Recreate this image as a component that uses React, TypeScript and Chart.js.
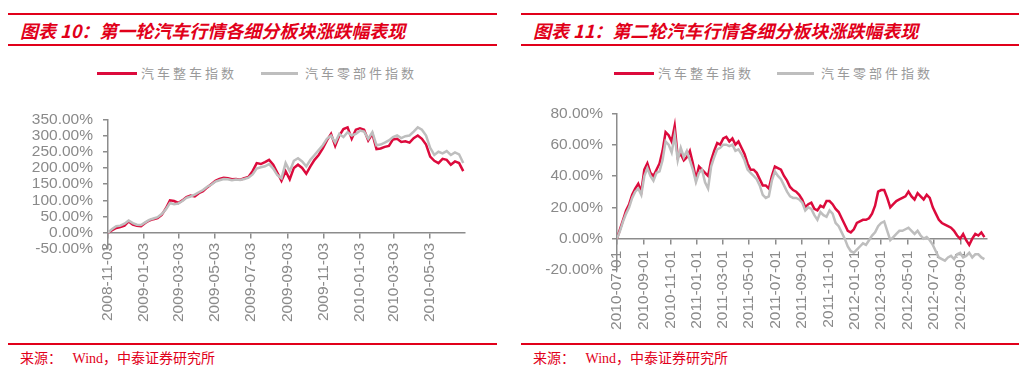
import React, { useEffect, useRef } from "react";
import { Chart, registerables } from "chart.js";

Chart.register(...registerables);

// ---------- data ----------
const seriesNames = ["汽车整车指数", "汽车零部件指数"];

// Panel 1 (first rally): weekly samples starting 2008-11-03
const leftStartDate = "2008-11-03";
const leftEndDate = "2010-07-01";
const leftTickLabels = [
  "2008-11-03", "2009-01-03", "2009-03-03", "2009-05-03", "2009-07-03",
  "2009-09-03", "2009-11-03", "2010-01-03", "2010-03-03", "2010-05-03",
];
const leftVehicle = [
  0, 8, 15, 18, 22, 35, 25, 22, 20, 30, 38, 42, 45, 55, 75, 100, 98, 92, 100, 110,
  115, 112, 122, 128, 140, 150, 160, 166, 170, 168, 165, 166, 164, 168, 172, 190, 215, 212, 218, 225,
  210, 185, 160, 190, 165, 200, 210, 200, 182, 205, 225, 240, 260, 285, 305, 268, 300, 320, 325, 290,
  318, 322, 318, 285, 305, 258, 260, 265, 268, 288, 290, 280, 282, 278, 292, 300, 290, 272, 235, 222,
  215, 228, 225, 210, 220, 215, 190,
];
const leftParts = [
  0, 12, 20, 22, 28, 38, 30, 25, 24, 32, 40, 44, 48, 58, 72, 92, 88, 90, 98, 108,
  112, 118, 125, 132, 142, 148, 158, 162, 166, 165, 162, 164, 163, 166, 170, 180, 198, 202, 205, 212,
  198, 178, 168, 215, 190, 222, 230, 220, 205, 225, 240, 255, 270, 290, 300, 278, 305, 295, 310, 300,
  305, 315, 312, 290, 310, 270, 272, 278, 285, 295, 300, 292, 298, 300, 312, 325, 318, 300, 262, 240,
  250, 245, 252, 240, 248, 242, 215,
];
const leftYMin = -50;
const leftYMax = 350;
const leftYStep = 50;

// Panel 2 (second rally): weekly samples starting 2010-07-01
const rightStartDate = "2010-07-01";
const rightEndDate = "2012-10-31";
const rightTickLabels = [
  "2010-07-01", "2010-09-01", "2010-11-01", "2011-01-01", "2011-03-01",
  "2011-05-01", "2011-07-01", "2011-09-01", "2011-11-01", "2012-01-01",
  "2012-03-01", "2012-05-01", "2012-07-01", "2012-09-01",
];
const rightVehicle = [
  0, 6, 12, 18, 22, 28, 32, 35, 30, 44, 48, 42, 40, 44, 48, 56, 68, 66, 62, 72,
  52, 54, 50, 52, 56, 48, 38, 46, 44, 42, 40, 50, 56, 61, 60, 64, 65, 62, 64, 60,
  62, 58, 54, 48, 44, 44, 42, 38, 34, 34, 32, 40, 46, 45, 44, 40, 37, 33, 31, 30,
  28, 25, 20, 22, 23, 19, 18, 21, 20, 24, 24, 22, 19, 17, 13, 9, 5, 4, 6, 10,
  11, 12, 12, 13, 16, 21, 30, 31, 31, 26, 20, 22, 24, 25, 26, 27, 30, 27, 25, 29,
  27, 25, 28, 26, 20, 16, 12, 10, 9, 8, 7, 5, 2, 0, 3, -1, -4, 0, 3, 2,
  4, 1,
];
const rightParts = [
  0, 5, 11, 16, 20, 26, 30, 32, 28, 40, 45, 40, 37, 42, 43, 50, 62, 60, 55, 66,
  50, 58, 52, 56, 50, 44, 36, 42, 44, 36, 32, 46, 52, 57, 58, 60, 60, 59, 60, 56,
  57, 54, 50, 44, 42, 40, 38, 34, 28, 26, 27, 37, 43, 40, 38, 34, 30, 27, 26, 26,
  25, 23, 18, 20, 19, 15, 12, 17, 15, 14, 18, 16, 10, 8, 4, 0, -5, -8, -9, -7,
  -5, -3, -4, -1, 2, 4, 8, 10, 11, 5, -1, 1, 3, 5, 5, 6, 7, 5, 3, 5,
  2, 0, 1, -1, -4, -8, -12, -13, -14, -12, -11, -13, -10, -9, -12, -11, -9, -12, -10, -10,
  -12, -13,
];
const rightYMin = -20;
const rightYMax = 80;
const rightYStep = 20;

const sampleDays = 7;

// ---------- styles ----------
const RED_TEXT = "#E1001A";
const RED_LINE = "#DC0A3C";
const GRAY_LINE = "#BEBEBE";
const AXIS = "#8C8C8C";
const TICK_TEXT = "#8A8A8A";
const TICK_FONT = "Liberation Sans, Arial, sans-serif";

function dayOffset(start: string, d: string) {
  return Math.round((Date.parse(d) - Date.parse(start)) / 86400000);
}

type PanelProps = {
  vehicle: number[];
  parts: number[];
  startDate: string;
  endDate: string;
  tickLabels: string[];
  yMin: number;
  yMax: number;
  yStep: number;
  left: number;
  top: number;
  width: number;
  height: number;
  yAxisWidth: number;
  yLabelPad: number;
  xLabelPad: number;
  padding: { top: number; right: number; bottom: number; left: number };
};

function LinePanel(p: PanelProps) {
  const ref = useRef<HTMLCanvasElement>(null);
  useEffect(() => {
    if (!ref.current) return;
    const tickDays = p.tickLabels.map((l) => dayOffset(p.startDate, l));
    const xMax = dayOffset(p.startDate, p.endDate);
    const toPoints = (arr: number[]) => arr.map((v, i) => ({ x: i * sampleDays, y: v }));
    const chart = new Chart(ref.current, {
      type: "line",
      data: {
        datasets: [
          {
            label: seriesNames[1],
            data: toPoints(p.parts),
            borderColor: GRAY_LINE,
            backgroundColor: GRAY_LINE,
            borderWidth: 2.5,
            pointRadius: 0,
            tension: 0,
          },
          {
            label: seriesNames[0],
            data: toPoints(p.vehicle),
            borderColor: RED_LINE,
            backgroundColor: RED_LINE,
            borderWidth: 2.5,
            pointRadius: 0,
            tension: 0,
          },
        ],
      },
      options: {
        responsive: false,
        maintainAspectRatio: false,
        animation: false,
        layout: { padding: p.padding },
        plugins: { legend: { display: false }, tooltip: { enabled: false } },
        scales: {
          x: {
            type: "linear",
            min: 0,
            max: xMax,
            position: { y: 0 } as any,
            afterBuildTicks: (s: any) => {
              s.ticks = tickDays.map((v) => ({ value: v }));
            },
            ticks: {
              autoSkip: false,
              maxRotation: 90,
              minRotation: 90,
              padding: p.xLabelPad,
              color: TICK_TEXT,
              font: { family: TICK_FONT, size: 15.5 },
              callback: (v: any) => {
                const i = tickDays.indexOf(Number(v));
                return i >= 0 ? p.tickLabels[i] : "";
              },
            },
            grid: {
              display: true,
              drawOnChartArea: false,
              drawTicks: true,
              tickLength: 5,
              color: AXIS,
              lineWidth: 1.5,
            },
            border: { display: true, color: AXIS, width: 1.5 },
          },
          y: {
            type: "linear",
            min: p.yMin,
            max: p.yMax,
            afterFit: (s: any) => {
              s.width = p.yAxisWidth;
            },
            ticks: {
              stepSize: p.yStep,
              autoSkip: false,
              padding: p.yLabelPad,
              color: TICK_TEXT,
              font: { family: TICK_FONT, size: 15.5 },
              callback: (v: any) => Number(v).toFixed(2) + "%",
            },
            grid: {
              display: true,
              drawOnChartArea: false,
              drawTicks: true,
              tickLength: 5,
              color: AXIS,
              lineWidth: 1.5,
            },
            border: { display: true, color: AXIS, width: 1.5 },
          },
        },
      },
    });
    return () => chart.destroy();
  }, []);
  return (
    <canvas
      ref={ref}
      width={p.width}
      height={p.height}
      style={{ position: "absolute", left: p.left, top: p.top, width: p.width, height: p.height }}
    />
  );
}

function Rule({ left, top, width }: { left: number; top: number; width: number }) {
  return <div style={{ position: "absolute", left, top, width, height: 2, background: RED_TEXT }} />;
}

function Legend({ x, gap }: { x: number; gap: number[] }) {
  const textStyle: React.CSSProperties = {
    position: "absolute",
    top: 66,
    fontFamily: "'Noto Sans CJK SC', sans-serif",
    fontSize: 13,
    lineHeight: "13px",
    letterSpacing: 3,
    color: "#9A9A9A",
    whiteSpace: "nowrap",
  };
  return (
    <>
      <div style={{ position: "absolute", left: x, top: 71.5, width: 40, height: 3, background: RED_LINE }} />
      <div style={{ ...textStyle, left: x + 44 }}>{seriesNames[0]}</div>
      <div style={{ position: "absolute", left: x + gap[0], top: 71.5, width: 37, height: 3, background: GRAY_LINE }} />
      <div style={{ ...textStyle, left: x + gap[0] + 44 }}>{seriesNames[1]}</div>
    </>
  );
}

function Title({ left, text }: { left: number; text: string }) {
  return (
    <div
      style={{
        position: "absolute",
        left,
        top: 21,
        fontFamily: "'Noto Sans CJK SC', sans-serif",
        fontWeight: 700,
        fontStyle: "italic",
        fontSize: 18,
        lineHeight: "18px",
        color: RED_TEXT,
        whiteSpace: "nowrap",
      }}
    >
      {text}
    </div>
  );
}

function Source({ left }: { left: number }) {
  return (
    <div
      style={{
        position: "absolute",
        left,
        top: 352,
        fontFamily: "'Liberation Serif', 'Noto Sans CJK SC', serif",
        fontSize: 14,
        lineHeight: "14px",
        color: RED_TEXT,
        whiteSpace: "pre",
      }}
    >
      {"来源：   Wind，中泰证券研究所"}
    </div>
  );
}

export default function App() {
  return (
    <div
      style={{
        position: "fixed",
        left: 0,
        top: 0,
        width: 1024,
        height: 375,
        background: "#ffffff",
        overflow: "hidden",
      }}
    >
      <Rule left={8} top={13} width={489} />
      <Rule left={8} top={43.5} width={489} />
      <Title left={20} text="图表 10：第一轮汽车行情各细分板块涨跌幅表现" />
      <Legend x={97} gap={[164]} />
      <LinePanel
        vehicle={leftVehicle}
        parts={leftParts}
        startDate={leftStartDate}
        endDate={leftEndDate}
        tickLabels={leftTickLabels}
        yMin={leftYMin}
        yMax={leftYMax}
        yStep={leftYStep}
        left={0}
        top={100}
        width={512}
        height={240}
        yAxisWidth={108}
        yLabelPad={10}
        xLabelPad={5}
        padding={{ top: 13, right: 47, bottom: 91, left: 0 }}
      />
      <Rule left={8} top={343} width={489} />
      <Source left={20} />

      <Rule left={521} top={13} width={498} />
      <Rule left={521} top={43.5} width={498} />
      <Title left={533} text="图表 11：第二轮汽车行情各细分板块涨跌幅表现" />
      <Legend x={614} gap={[163]} />
      <LinePanel
        vehicle={rightVehicle}
        parts={rightParts}
        startDate={rightStartDate}
        endDate={rightEndDate}
        tickLabels={rightTickLabels}
        yMin={rightYMin}
        yMax={rightYMax}
        yStep={rightYStep}
        left={512}
        top={95}
        width={512}
        height={245}
        yAxisWidth={105}
        yLabelPad={9}
        xLabelPad={7}
        padding={{ top: 14, right: 37, bottom: 70, left: 0 }}
      />
      <Rule left={521} top={343} width={498} />
      <Source left={533} />
    </div>
  );
}
